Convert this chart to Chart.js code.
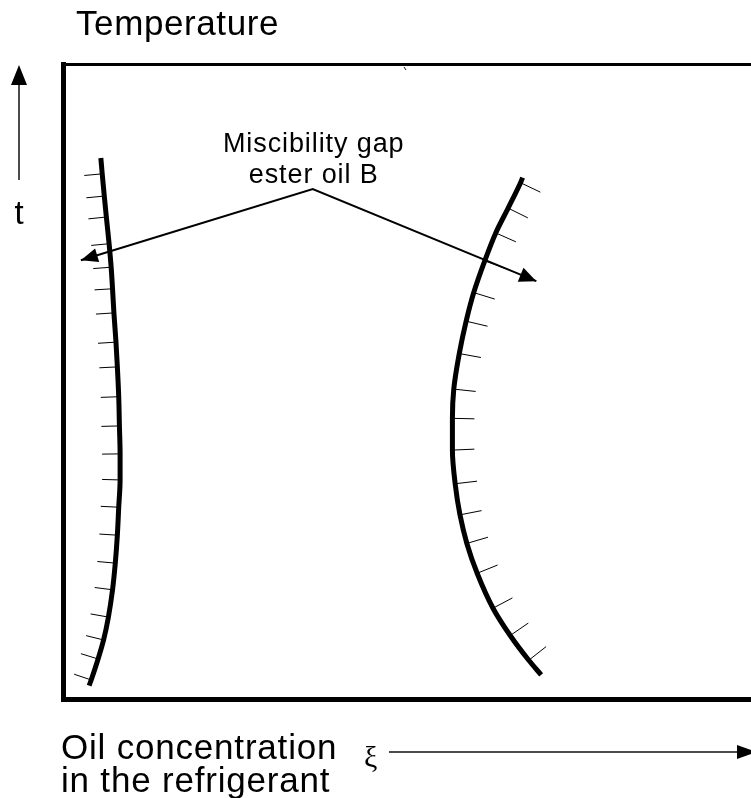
<!DOCTYPE html>
<html>
<head>
<meta charset="utf-8">
<title>Miscibility gap ester oil B</title>
<script src="https://cdn.jsdelivr.net/npm/chart.js@4.4.1/dist/chart.umd.min.js"></script>
<style>
  html, body { margin: 0; padding: 0; background: #fff; overflow: hidden; }
  canvas { display: block; }
</style>
</head>
<body>
<canvas id="gapChart" width="751" height="798"></canvas>
<script>
/* Miscibility gap sketch: oil concentration (x) vs temperature (y), arbitrary units 0..100 */

// left branch of the gap (top -> bottom), interior points carry a hatch
const leftGapX = [5.5, 5.7, 6.0, 6.3, 6.7, 7.0, 7.2, 7.4, 7.7, 7.9, 8.1, 8.2, 8.3, 8.3, 8.1, 7.9, 7.6, 7.2, 6.6, 5.9, 5.1, 4.1, 3.8];
const leftGapY = [85.2, 82.7, 79.2, 75.9, 71.7, 68.0, 64.6, 60.8, 56.2, 52.3, 47.6, 43.0, 38.6, 34.5, 30.2, 25.8, 21.4, 17.2, 12.9, 9.3, 6.3, 3.0, 2.1];

// right branch of the gap (top -> bottom)
const rightGapX = [66.8, 66.5, 64.7, 62.9, 61.3, 59.7, 58.6, 57.6, 56.8, 56.6, 56.6, 57.0, 57.7, 58.7, 60.2, 62.5, 65.0, 67.7, 69.5];
const rightGapY = [82.1, 81.3, 77.3, 73.4, 69.0, 64.0, 59.5, 54.4, 48.8, 44.2, 39.2, 33.9, 29.0, 24.5, 19.8, 14.3, 10.0, 6.1, 3.8];

// label pointer: left tip, knee under the label, right tip
const pointerX = [2.6, 36.3, 68.8];
const pointerY = [69.1, 80.3, 65.8];

const gapLabel = ["Miscibility gap", "ester oil B"];
const yTitle = "Temperature";
const ySymbol = "t";
const xTitle = ["Oil concentration", "in the refrigerant"];
const xSymbol = "\u03BE";

const toPoints = (xs, ys) => xs.map((x, i) => ({ x, y: ys[i] }));

const SANS = "'Liberation Sans', Arial, Helvetica, sans-serif";
const SERIF = "'Liberation Serif', 'Times New Roman', serif";

function arrowHead(ctx, tipX, tipY, fromX, fromY, len, half) {
  const a = Math.atan2(tipY - fromY, tipX - fromX);
  const bx = tipX - Math.cos(a) * len;
  const by = tipY - Math.sin(a) * len;
  ctx.beginPath();
  ctx.moveTo(tipX, tipY);
  ctx.lineTo(bx + Math.sin(a) * half, by - Math.cos(a) * half);
  ctx.lineTo(bx - Math.sin(a) * half, by + Math.cos(a) * half);
  ctx.closePath();
  ctx.fill();
}

// short ticks normal to each branch, on the outer side
const hatchPlugin = {
  id: "hatches",
  afterDatasetsDraw(chart) {
    const ctx = chart.ctx;
    chart.data.datasets.forEach((ds, i) => {
      if (!ds.hatch) return;
      const pts = chart.getDatasetMeta(i).data;
      ctx.save();
      ctx.strokeStyle = "#000";
      ctx.lineWidth = 1;
      ctx.beginPath();
      for (let k = 1; k < pts.length - 1; k++) {
        const a = pts[k - 1], b = pts[k + 1], p = pts[k];
        let tx = b.x - a.x, ty = b.y - a.y;
        const len = Math.hypot(tx, ty) || 1;
        tx /= len; ty /= len;
        let nx = ty, ny = -tx;
        if (Math.sign(nx) !== ds.hatch.side) { nx = -nx; ny = -ny; }
        ctx.moveTo(p.x, p.y);
        ctx.lineTo(p.x + nx * ds.hatch.length, p.y + ny * ds.hatch.length);
      }
      ctx.stroke();
      ctx.restore();
    });
  },
};

// arrow heads on the pointer and the label above its knee
const pointerPlugin = {
  id: "pointer",
  afterDatasetsDraw(chart) {
    const ctx = chart.ctx;
    chart.data.datasets.forEach((ds, i) => {
      if (!ds.arrows) return;
      const pts = chart.getDatasetMeta(i).data;
      const n = pts.length;
      ctx.save();
      ctx.fillStyle = "#000";
      arrowHead(ctx, pts[0].x, pts[0].y, pts[1].x, pts[1].y, 17, 7);
      arrowHead(ctx, pts[n - 1].x, pts[n - 1].y, pts[n - 2].x, pts[n - 2].y, 17, 7.5);
      const knee = pts[1];
      ctx.font = "27px " + SANS;
      ctx.letterSpacing = "0.9px";
      ctx.textAlign = "center";
      ctx.textBaseline = "alphabetic";
      ctx.fillText(gapLabel[0], knee.x + 1, knee.y - 37);
      ctx.fillText(gapLabel[1], knee.x + 1, knee.y - 6);
      ctx.restore();
    });
  },
};

// axis captions and the two direction arrows outside the frame
const captionPlugin = {
  id: "captions",
  afterDraw(chart) {
    const ctx = chart.ctx;
    const area = chart.chartArea;
    ctx.save();
    ctx.fillStyle = "#000";
    ctx.strokeStyle = "#111";
    ctx.textBaseline = "alphabetic";

    ctx.font = "35px " + SANS;
    ctx.letterSpacing = "0.6px";
    ctx.textAlign = "left";
    ctx.fillText(yTitle, 76, 35);

    // temperature arrow
    ctx.lineWidth = 1.5;
    ctx.beginPath();
    ctx.moveTo(19, 180);
    ctx.lineTo(19, 84);
    ctx.stroke();
    arrowHead(ctx, 19, 65, 19, 180, 20, 8);
    ctx.font = "33px " + SANS;
    ctx.letterSpacing = "0px";
    ctx.textAlign = "center";
    ctx.fillText(ySymbol, 19, 224);

    ctx.font = "35px " + SANS;
    ctx.letterSpacing = "0.8px";
    ctx.textAlign = "left";
    ctx.fillText(xTitle[0], area.left - 2, 759);
    ctx.fillText(xTitle[1], area.left - 2, 792);

    ctx.font = "30px " + SERIF;
    ctx.letterSpacing = "0px";
    ctx.fillText(xSymbol, 364, 767);

    // concentration arrow
    ctx.beginPath();
    ctx.moveTo(389, 752);
    ctx.lineTo(740, 752);
    ctx.stroke();
    arrowHead(ctx, 757, 752, 389, 752, 20, 7);

    // small stray stroke under the top edge
    ctx.lineWidth = 1;
    ctx.beginPath();
    ctx.moveTo(404, 67);
    ctx.lineTo(406, 70);
    ctx.stroke();
    ctx.restore();
  },
};

const frameAxis = (pos, width) => ({
  type: "linear",
  position: pos,
  min: 0,
  max: 100,
  ticks: { display: false },
  grid: { display: false, drawTicks: false },
  border: { display: true, color: "#000", width },
});

const branch = (label, xs, ys, hatch) => ({
  label,
  data: toPoints(xs, ys),
  indexAxis: "y",
  showLine: true,
  borderColor: "#000",
  borderWidth: 5,
  cubicInterpolationMode: "monotone",
  pointRadius: 0,
  hatch,
});

new Chart(document.getElementById("gapChart"), {
  type: "scatter",
  data: {
    datasets: [
      branch("left branch", leftGapX, leftGapY, { side: -1, length: 18 }),
      branch("right branch", rightGapX, rightGapY, { side: 1, length: 22 }),
      {
        label: "pointer",
        data: toPoints(pointerX, pointerY),
        showLine: true,
        borderColor: "#000",
        borderWidth: 2,
        tension: 0,
        pointRadius: 0,
        arrows: true,
      },
    ],
  },
  options: {
    responsive: false,
    animation: false,
    events: [],
    layout: { padding: { left: 63, top: 64, right: 0, bottom: 99 } },
    plugins: {
      legend: { display: false },
      tooltip: { enabled: false },
      title: { display: false },
    },
    scales: {
      x: frameAxis("bottom", 5),
      y: frameAxis("left", 5),
      xTop: frameAxis("top", 3),
    },
  },
  plugins: [hatchPlugin, pointerPlugin, captionPlugin],
});
</script>
</body>
</html>
